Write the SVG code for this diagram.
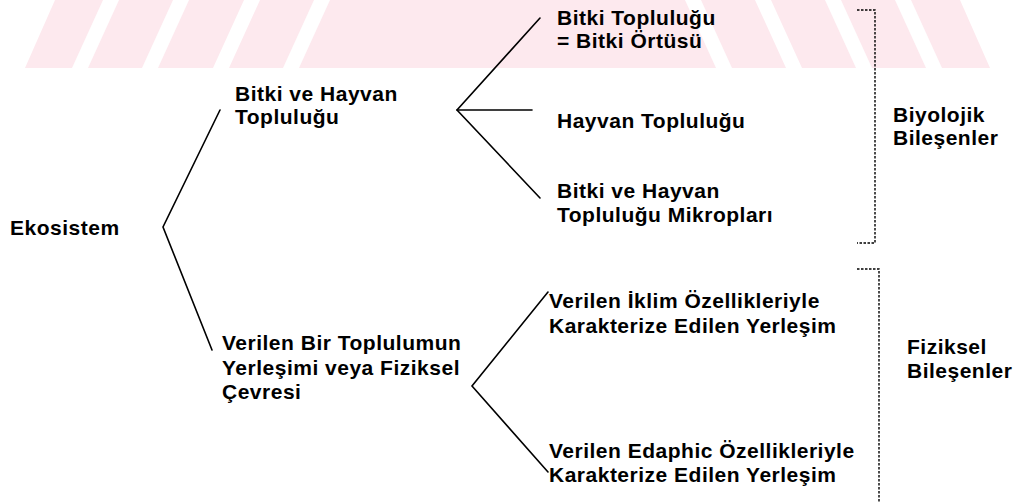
<svg xmlns="http://www.w3.org/2000/svg" width="1015" height="503" viewBox="0 0 1015 503">
<style>
.t{font-family:"Liberation Sans",Arial,sans-serif;font-weight:bold;font-size:21px;letter-spacing:0.5px;fill:#000}
.ln{stroke:#000;stroke-width:1.6;fill:none;stroke-linecap:round}
.br{stroke:#000;stroke-width:1.4;fill:none;stroke-dasharray:2.5 1.5}
.wm{fill:#fde9ee}
.gap{fill:#fff}
</style>
<rect width="1015" height="503" fill="#fff"/>
<g id="watermark">
<polygon class="wm" points="25,68 55,0 960,0 990,68"/>
<polygon class="gap" points="72,68 88,68 119,0 103,0"/>
<polygon class="gap" points="142,68 158,68 189,0 173,0"/>
<polygon class="gap" points="213,68 229,68 260,0 244,0"/>
<polygon class="gap" points="283,68 299,68 330,0 314,0"/>
<polygon class="gap" points="716,68 732,68 701,0 685,0"/>
<polygon class="gap" points="786,68 802,68 771,0 755,0"/>
<polygon class="gap" points="856,68 872,68 841,0 825,0"/>
<polygon class="gap" points="926,68 942,68 911,0 895,0"/>
</g>
<g id="connectors">
<polyline class="ln" points="220,110 163,227 212,350"/>
<polyline class="ln" points="540,18 457,110 540,198"/>
<line class="ln" x1="457" y1="110" x2="532" y2="110"/>
<polyline class="ln" points="548,292 472,386 548,472"/>
</g>
<g id="bracket-bio">
<polyline class="br" points="857,10 875,10 875,243 857,243"/>
</g>
<g id="bracket-fiz">
<polyline class="br" points="857,269 879,269 879,503"/>
</g>
<g id="n-ekosistem"><text class="t" x="10" y="235">Ekosistem</text></g>
<g id="n-bitki-hayvan"><text class="t" x="235" y="101">Bitki ve Hayvan</text><text class="t" x="235" y="124">Topluluğu</text></g>
<g id="n-bitki-toplulugu"><text class="t" x="557" y="25">Bitki Topluluğu</text><text class="t" x="557" y="48">= Bitki  Örtüsü</text></g>
<g id="n-hayvan-toplulugu"><text class="t" x="557" y="128">Hayvan Topluluğu</text></g>
<g id="n-mikroplar"><text class="t" x="557" y="198">Bitki ve Hayvan</text><text class="t" x="557" y="222">Topluluğu Mikropları</text></g>
<g id="n-biyolojik"><text class="t" x="893" y="122">Biyolojik</text><text class="t" x="893" y="145">Bileşenler</text></g>
<g id="n-yerlesim"><text class="t" x="222" y="350">Verilen Bir Toplulumun</text><text class="t" x="222" y="375">Yerleşimi veya Fiziksel</text><text class="t" x="222" y="399">Çevresi</text></g>
<g id="n-iklim"><text class="t" x="549" y="308">Verilen İklim Özellikleriyle</text><text class="t" x="549" y="333">Karakterize Edilen Yerleşim</text></g>
<g id="n-edaphic"><text class="t" x="549" y="458">Verilen Edaphic Özellikleriyle</text><text class="t" x="549" y="482">Karakterize Edilen Yerleşim</text></g>
<g id="n-fiziksel"><text class="t" x="907" y="354">Fiziksel</text><text class="t" x="907" y="378">Bileşenler</text></g>
</svg>
